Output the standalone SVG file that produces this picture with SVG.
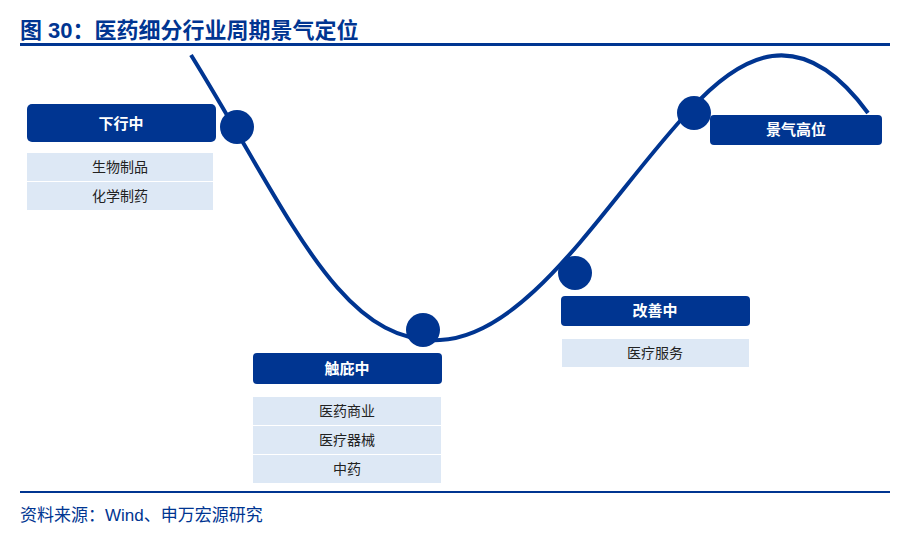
<svg xmlns="http://www.w3.org/2000/svg" width="911" height="541" viewBox="0 0 911 541">
<style>
text{font-family:"Liberation Sans","Noto Sans CJK SC",sans-serif}
.h{fill:#003591}
.ht{fill:#fff;font-size:15px;font-weight:bold;text-anchor:middle}
.l{fill:#dde8f5}
.lt{fill:#222;font-size:14px;text-anchor:middle}
.d{fill:#003591}
</style>
<rect width="911" height="541" fill="#fff"/>
<text x="20" y="38" font-size="22" font-weight="bold" fill="#003591" font-family="'Liberation Sans','Noto Sans CJK SC',sans-serif">图 30：医药细分行业周期景气定位</text>
<rect x="20" y="43" width="870" height="3" fill="#003591"/>
<g id="connectors">
<path d="M191,55 C290,215 340,345 440,340 C530,336 610,195 690,110 C740,55 800,20 868,113" fill="none" stroke="#003591" stroke-width="4"/>
</g>
<g id="n1"><rect class="h" x="27" y="104" width="189" height="38" rx="5"/><text class="ht" x="121" y="129">下行中</text>
<rect class="l" x="27" y="153" width="186" height="28"/><text class="lt" x="120" y="172">生物制品</text>
<rect class="l" x="27" y="182" width="186" height="28"/><text class="lt" x="120" y="201">化学制药</text>
<circle class="d" cx="237" cy="127" r="17"/></g>
<g id="n2"><rect class="h" x="253" y="353" width="189" height="31" rx="4"/><text class="ht" x="347" y="374">触庇中</text>
<rect class="l" x="253" y="397" width="188" height="28"/><text class="lt" x="347" y="416">医药商业</text>
<rect class="l" x="253" y="426" width="188" height="28"/><text class="lt" x="347" y="445">医疗器械</text>
<rect class="l" x="253" y="455" width="188" height="28"/><text class="lt" x="347" y="474">中药</text>
<circle class="d" cx="423" cy="330" r="17"/></g>
<g id="n3"><rect class="h" x="561" y="296" width="189" height="30" rx="4"/><text class="ht" x="655" y="316">改善中</text>
<rect class="l" x="562" y="339" width="187" height="28"/><text class="lt" x="655" y="358">医疗服务</text>
<circle class="d" cx="575" cy="273" r="17"/></g>
<g id="n4"><rect class="h" x="710" y="115" width="172" height="30" rx="4"/><text class="ht" x="796" y="135">景气高位</text>
<circle class="d" cx="694" cy="113" r="17"/></g>
<rect x="20" y="491" width="870" height="2" fill="#003591"/>
<text x="20" y="521" font-size="17" fill="#003591">资料来源：Wind、申万宏源研究</text>
</svg>
